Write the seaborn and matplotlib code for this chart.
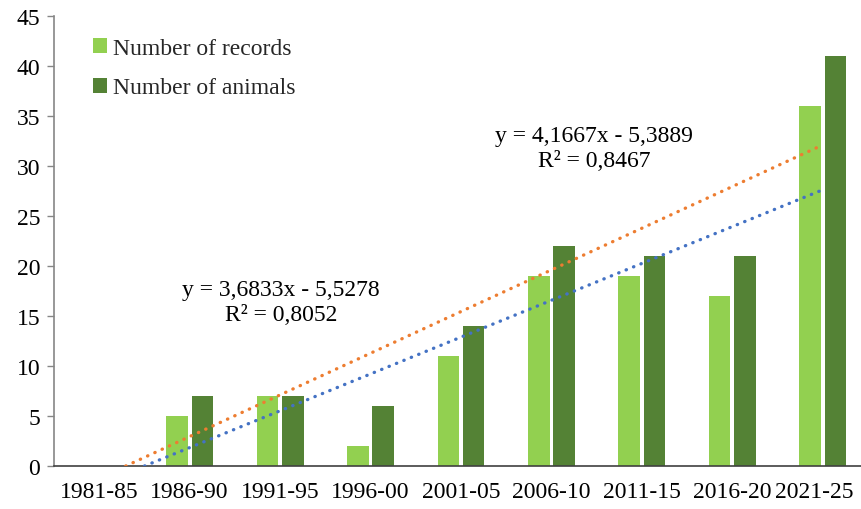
import numpy as np
import pandas as pd
import matplotlib
matplotlib.use("Agg")
import matplotlib.pyplot as plt
import matplotlib.transforms as mtransforms
import seaborn as sns

periods = ["1981-85", "1986-90", "1991-95", "1996-00", "2001-05",
           "2006-10", "2011-15", "2016-20", "2021-25"]
records = [0, 5, 7, 2, 11, 19, 19, 17, 36]
animals = [0, 7, 7, 6, 14, 22, 21, 21, 41]
series_names = ["Number of records", "Number of animals"]
yticks = list(range(0, 50, 5))

sns.set_theme(style="white")
plt.rcParams["font.family"] = ["Liberation Serif", "DejaVu Serif"]

FS = 17

df = pd.DataFrame({
    "period": periods * 2,
    "value": records + animals,
    "series": [series_names[0]] * len(periods) + [series_names[1]] * len(periods),
})

fig = plt.figure(figsize=(8.62, 5.10), dpi=100)
ax = fig.add_axes([54 / 862, 43 / 510, (868 - 54) / 862, 450 / 510])

sns.barplot(data=df, x="period", y="value", hue="series", order=periods,
            hue_order=series_names, palette=["#92D050", "#548235"],
            width=0.56, gap=0.15, ax=ax, errorbar=None, saturation=1,
            edgecolor="none")

# Linear trendlines (Excel style, x = 1..n)
xs = np.arange(1, len(periods) + 1)
for vals, col in [(records, "#4472C4"), (animals, "#ED7D31")]:
    m, b = np.polyfit(xs, vals, 1)
    x0 = max(1.0, -b / m)
    xx = np.linspace(x0, xs[-1], 200)
    ax.plot(xx - 1, m * xx + b, color=col, lw=2.4,
            linestyle=(0, (0.1, 2.3)), dash_capstyle="round", zorder=5)

def eq_text(vals):
    m, b = np.polyfit(xs, vals, 1)
    pred = m * xs + b
    r2 = 1 - np.sum((np.array(vals) - pred) ** 2) / np.sum((np.array(vals) - np.mean(vals)) ** 2)
    sign = "-" if b < 0 else "+"
    s1 = f"y = {m:.4f}x {sign} {abs(b):.4f}".replace(".", ",")
    s2 = f"R² = {r2:.4f}".replace(".", ",")
    return s1 + "\n" + s2

ax.set_xlim(-0.5, len(periods) - 0.5)
ax.set_ylim(0, 45)
fig.canvas.draw()

def px2data(px, py):
    inv = ax.transData.inverted()
    return inv.transform((px, 510 - py))

ax.text(*px2data(281, 303), eq_text(records), ha="center", va="center",
        fontsize=FS, linespacing=1.3, color="#000000")
ax.text(*px2data(594, 149), eq_text(animals), ha="center", va="center",
        fontsize=FS, linespacing=1.3, color="#000000")

ax.set_yticks(yticks)
ax.set_xlabel("")
ax.set_ylabel("")
ax.tick_params(axis="y", which="major", left=True, length=5, width=1,
               color="#868686", labelsize=FS, pad=5, labelcolor="black")
ax.tick_params(axis="x", bottom=False, labelsize=FS, pad=5, labelcolor="black")

# keep last category label inside the figure (as the original does)
last = ax.get_xticklabels()[-1]
last.set_transform(last.get_transform() +
                   mtransforms.ScaledTranslation(-9 / 100, 0, fig.dpi_scale_trans))

for s in ["top", "right"]:
    ax.spines[s].set_visible(False)
ax.spines["left"].set_color("#868686")
ax.spines["left"].set_linewidth(1.2)
ax.spines["bottom"].set_color("#404040")
ax.spines["bottom"].set_linewidth(1.2)

leg = ax.legend(loc="upper left", bbox_to_anchor=(0.036, 0.972), frameon=False,
                fontsize=FS, handlelength=0.6, handleheight=0.6,
                handletextpad=0.25, labelspacing=0.78, borderaxespad=0)

fig.savefig("out.png", dpi=100)
